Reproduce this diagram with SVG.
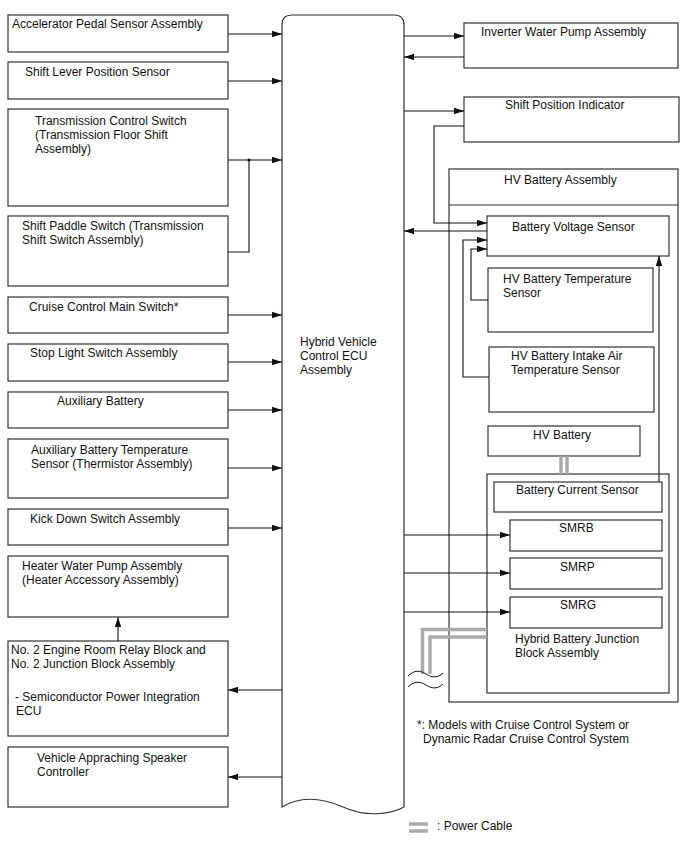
<svg xmlns="http://www.w3.org/2000/svg" width="688" height="852" viewBox="0 0 688 852">
<style>
.box{fill:#fff;stroke:#333;stroke-width:1.2}
.t{font-family:"Liberation Sans",Arial,sans-serif;font-size:12px;fill:#111}
.c{fill:none;stroke:#111;stroke-width:1.1}
.pc{fill:none;stroke:#aaa;stroke-width:3.5}
.w{fill:none;stroke:#111;stroke-width:1}
</style>
<defs>
<marker id="ah" markerWidth="10" markerHeight="8" refX="10" refY="4" orient="auto" markerUnits="userSpaceOnUse"><path d="M0,0.8 L10,4 L0,7.2 z" fill="#111"/></marker>
</defs>
<rect width="688" height="852" fill="#fff"/>

<g id="ecu">
<path class="box" d="M282,25 Q282,15 292,15 H394 Q404,15 404,25 V807 C390,815 365,817 343,807 C320,797 300,796 282,807 Z"/>
<text class="t" x="300" y="346">Hybrid Vehicle</text>
<text class="t" x="300" y="360">Control ECU</text>
<text class="t" x="300" y="374">Assembly</text>
</g>

<g id="accel"><rect class="box" x="8" y="15" width="220" height="37"/><text class="t" x="12" y="28">Accelerator Pedal Sensor Assembly</text></g>
<g id="shiftlever"><rect class="box" x="8" y="62" width="220" height="37"/><text class="t" x="25" y="76">Shift Lever Position Sensor</text></g>
<g id="tcs"><rect class="box" x="8" y="109" width="220" height="97"/><text class="t" x="35" y="125">Transmission Control Switch</text><text class="t" x="35" y="139">(Transmission Floor Shift</text><text class="t" x="35" y="153">Assembly)</text></g>
<g id="paddle"><rect class="box" x="8" y="216" width="220" height="70"/><text class="t" x="22" y="230">Shift Paddle Switch (Transmission</text><text class="t" x="22" y="244">Shift Switch Assembly)</text></g>
<g id="cruise"><rect class="box" x="8" y="297" width="220" height="36"/><text class="t" x="29" y="311">Cruise Control Main Switch*</text></g>
<g id="stoplight"><rect class="box" x="8" y="344" width="220" height="37"/><text class="t" x="30" y="357">Stop Light Switch Assembly</text></g>
<g id="auxbat"><rect class="box" x="8" y="392" width="220" height="36"/><text class="t" x="57" y="405">Auxiliary Battery</text></g>
<g id="auxtemp"><rect class="box" x="8" y="439" width="220" height="59"/><text class="t" x="31" y="454">Auxiliary Battery Temperature</text><text class="t" x="31" y="468">Sensor (Thermistor Assembly)</text></g>
<g id="kickdown"><rect class="box" x="8" y="509" width="220" height="36"/><text class="t" x="30" y="523">Kick Down Switch Assembly</text></g>
<g id="heater"><rect class="box" x="8" y="556" width="220" height="61"/><text class="t" x="22" y="570">Heater Water Pump Assembly</text><text class="t" x="22" y="584">(Heater Accessory Assembly)</text></g>
<g id="relay"><rect class="box" x="8" y="641" width="220" height="95"/><text class="t" x="11" y="654">No. 2 Engine Room Relay Block and</text><text class="t" x="11" y="668">No. 2 Junction Block Assembly</text><text class="t" x="15" y="701">- Semiconductor Power Integration</text><text class="t" x="16" y="715">ECU</text></g>
<g id="speaker"><rect class="box" x="8" y="747" width="220" height="60"/><text class="t" x="37" y="762">Vehicle Appraching Speaker</text><text class="t" x="37" y="776">Controller</text></g>

<g id="inverter"><rect class="box" x="464" y="23" width="214" height="45"/><text class="t" x="481" y="36">Inverter Water Pump Assembly</text></g>
<g id="shiftpos"><rect class="box" x="464" y="97" width="215" height="45"/><text class="t" x="505" y="109">Shift Position Indicator</text></g>
<g id="hvbatassy"><rect class="box" x="449" y="169" width="229" height="533"/><line x1="449" y1="205" x2="678" y2="205" stroke="#333" stroke-width="1.2"/><text class="t" x="504" y="184">HV Battery Assembly</text></g>
<g id="bvs"><rect class="box" x="487" y="216" width="182" height="40"/><text class="t" x="512" y="231">Battery Voltage Sensor</text></g>
<g id="hvtemp"><rect class="box" x="488" y="268" width="165" height="64"/><text class="t" x="503" y="283">HV Battery Temperature</text><text class="t" x="503" y="297">Sensor</text></g>
<g id="intake"><rect class="box" x="489" y="347" width="165" height="65"/><text class="t" x="511" y="360">HV Battery Intake Air</text><text class="t" x="511" y="374">Temperature Sensor</text></g>
<g id="hvbat"><rect class="box" x="488" y="426" width="152" height="30"/><text class="t" x="533" y="439">HV Battery</text></g>
<g id="junction"><rect class="box" x="487" y="474" width="182" height="219"/><text class="t" x="515" y="643">Hybrid Battery Junction</text><text class="t" x="515" y="657">Block Assembly</text></g>
<g id="bcs"><rect class="box" x="494" y="482" width="168" height="30"/><text class="t" x="516" y="494">Battery Current Sensor</text></g>
<g id="smrb"><rect class="box" x="510" y="520" width="152" height="31"/><text class="t" x="559" y="532">SMRB</text></g>
<g id="smrp"><rect class="box" x="510" y="558" width="152" height="31"/><text class="t" x="560" y="571">SMRP</text></g>
<g id="smrg"><rect class="box" x="510" y="597" width="152" height="31"/><text class="t" x="560" y="609">SMRG</text></g>

<g id="connectors">
<line class="c" x1="228" y1="34" x2="282" y2="34" marker-end="url(#ah)"/>
<line class="c" x1="228" y1="81" x2="282" y2="81" marker-end="url(#ah)"/>
<line class="c" x1="228" y1="160" x2="282" y2="160" marker-end="url(#ah)"/>
<polyline class="c" points="228,252 249,252 249,160"/>
<circle cx="249" cy="160" r="1.6" fill="#111"/>
<line class="c" x1="228" y1="315" x2="282" y2="315" marker-end="url(#ah)"/>
<line class="c" x1="228" y1="362" x2="282" y2="362" marker-end="url(#ah)"/>
<line class="c" x1="228" y1="410" x2="282" y2="410" marker-end="url(#ah)"/>
<line class="c" x1="228" y1="468" x2="282" y2="468" marker-end="url(#ah)"/>
<line class="c" x1="228" y1="528" x2="282" y2="528" marker-end="url(#ah)"/>
<line class="c" x1="118" y1="641" x2="118" y2="617" marker-end="url(#ah)"/>
<line class="c" x1="282" y1="690" x2="228" y2="690" marker-end="url(#ah)"/>
<line class="c" x1="282" y1="777" x2="228" y2="777" marker-end="url(#ah)"/>
<line class="c" x1="404" y1="36" x2="464" y2="36" marker-end="url(#ah)"/>
<line class="c" x1="464" y1="57" x2="404" y2="57" marker-end="url(#ah)"/>
<line class="c" x1="404" y1="111" x2="464" y2="111" marker-end="url(#ah)"/>
<polyline class="c" points="464,126 434,126 434,223 487,223" marker-end="url(#ah)"/>
<line class="c" x1="487" y1="231" x2="404" y2="231" marker-end="url(#ah)"/>
<polyline class="c" points="489,377 463,377 463,240 487,240" marker-end="url(#ah)"/>
<polyline class="c" points="488,300 471,300 471,249 487,249" marker-end="url(#ah)"/>
<line class="c" x1="659" y1="482" x2="659" y2="256" marker-end="url(#ah)"/>
<line class="c" x1="404" y1="535" x2="510" y2="535" marker-end="url(#ah)"/>
<line class="c" x1="404" y1="573" x2="510" y2="573" marker-end="url(#ah)"/>
<line class="c" x1="404" y1="612" x2="510" y2="612" marker-end="url(#ah)"/>
<line class="pc" x1="561" y1="456" x2="561" y2="474"/>
<line class="pc" x1="567" y1="456" x2="567" y2="474"/>
<polyline class="pc" points="487,629.5 422.5,629.5 422.5,674"/>
<polyline class="pc" points="487,637 430,637 430,674"/>
<path class="w" d="M408,676 C414,670 420,670 426,674 C432,678 438,678 443,673"/>
<path class="w" d="M408,687 C414,681 420,681 426,685 C432,689 438,689 443,684"/>
</g>

<g id="notes">
<text class="t" x="417" y="729">*: Models with Cruise Control System or</text>
<text class="t" x="423" y="743">Dynamic Radar Cruise Control System</text>
<line class="pc" x1="409" y1="824" x2="428" y2="824"/>
<line class="pc" x1="409" y1="831" x2="428" y2="831"/>
<text class="t" x="437" y="830">: Power Cable</text>
</g>
</svg>
